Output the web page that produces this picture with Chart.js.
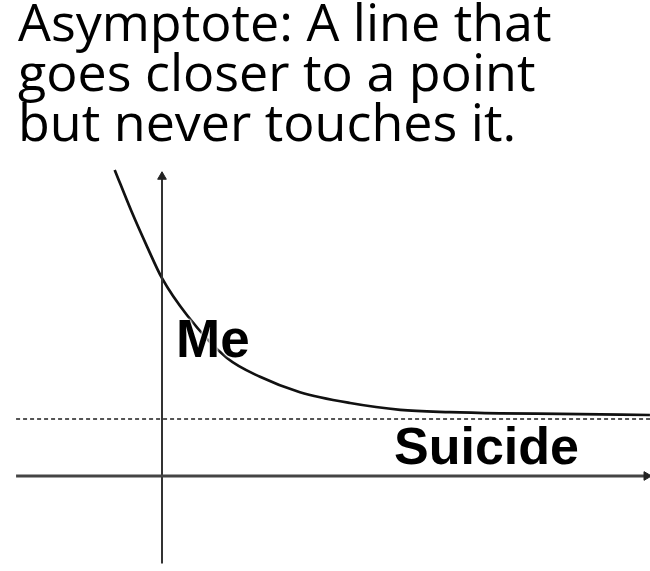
<!DOCTYPE html>
<html>
<head>
<meta charset="utf-8">
<script src="https://cdn.jsdelivr.net/npm/chart.js@4.4.1/dist/chart.umd.min.js"></script>
<style>
  html, body { margin: 0; padding: 0; background: #fff; }
  #wrap { position: relative; width: 650px; height: 571px; overflow: hidden; }
  #chart { position: absolute; left: 0; top: 0; }
  #title {
    position: absolute; left: 18px; top: -4px;
    font-family: "Open Sans", sans-serif; font-size: 52px; line-height: 50px;
    color: #000; white-space: nowrap;
  }
  .lbl {
    position: absolute; font-family: "Liberation Sans", Arial, sans-serif;
    font-weight: bold; color: #000; white-space: nowrap;
    text-shadow: 0 0 2px #fff, 0 0 2px #fff, 0 0 3px #fff, 0 0 3px #fff;
  }
</style>
</head>
<body>
<div id="wrap">
  <canvas id="chart" width="650" height="571"></canvas>
  <div id="title">Asymptote: A line that<br>goes closer to a point<br>but never touches it.</div>
  <div class="lbl" id="me" style="left:176px; top:312px; font-size:53px; line-height:53px;">Me</div>
  <div class="lbl" id="suicide" style="left:394px; top:420px; font-size:52px; line-height:52px;">Suicide</div>
</div>
<script>
// Curve "Me" approaching the asymptote "Suicide" (y = 1)
const curveX = [-0.83, -0.53, -0.26, 0, 0.44, 1.14, 1.72, 2.42, 3.30, 4.18, 5.05, 5.93, 6.98, 8.56];
const curveY = [5.37, 4.63, 4.02, 3.47, 2.82, 2.07, 1.74, 1.47, 1.28, 1.16, 1.12, 1.10, 1.09, 1.07];
const asymptoteY = 1;
const xAxisX = [-2.56, 8.50];
const yAxisY = [-1.535, 5.25];
const xRange = [-2.842, 8.561];
const yRange = [-1.667, 8.351];

const curve = curveX.map((x, i) => ({ x: x, y: curveY[i] }));

new Chart(document.getElementById('chart'), {
  type: 'scatter',
  data: {
    datasets: [
      {
        label: 'x-axis',
        data: xAxisX.map(x => ({ x: x, y: 0 })),
        showLine: true, borderColor: '#444', borderWidth: 3,
        pointRadius: [0, 5], pointStyle: 'triangle', rotation: 90,
        pointBackgroundColor: '#222', pointBorderColor: '#222', pointBorderWidth: 1
      },
      {
        label: 'y-axis',
        data: yAxisY.map(y => ({ x: 0, y: y })),
        showLine: true, borderColor: '#333', borderWidth: 2,
        pointRadius: [0, 5], pointStyle: 'triangle', rotation: 0,
        pointBackgroundColor: '#222', pointBorderColor: '#222', pointBorderWidth: 1
      },
      {
        label: 'asymptote',
        data: [{ x: xAxisX[0], y: asymptoteY }, { x: xRange[1], y: asymptoteY }],
        showLine: true, borderColor: '#555', borderWidth: 2, borderDash: [4, 3],
        pointRadius: 0
      },
      {
        label: 'Me',
        data: curve,
        showLine: true, borderColor: '#111', borderWidth: 2.7,
        cubicInterpolationMode: 'monotone', pointRadius: 0
      }
    ]
  },
  options: {
    responsive: false, animation: false,
    layout: { padding: 0, autoPadding: false },
    plugins: { legend: { display: false }, tooltip: { enabled: false }, title: { display: false } },
    scales: {
      x: { type: 'linear', min: xRange[0], max: xRange[1], display: false },
      y: { type: 'linear', min: yRange[0], max: yRange[1], display: false }
    }
  }
});
</script>
</body>
</html>
